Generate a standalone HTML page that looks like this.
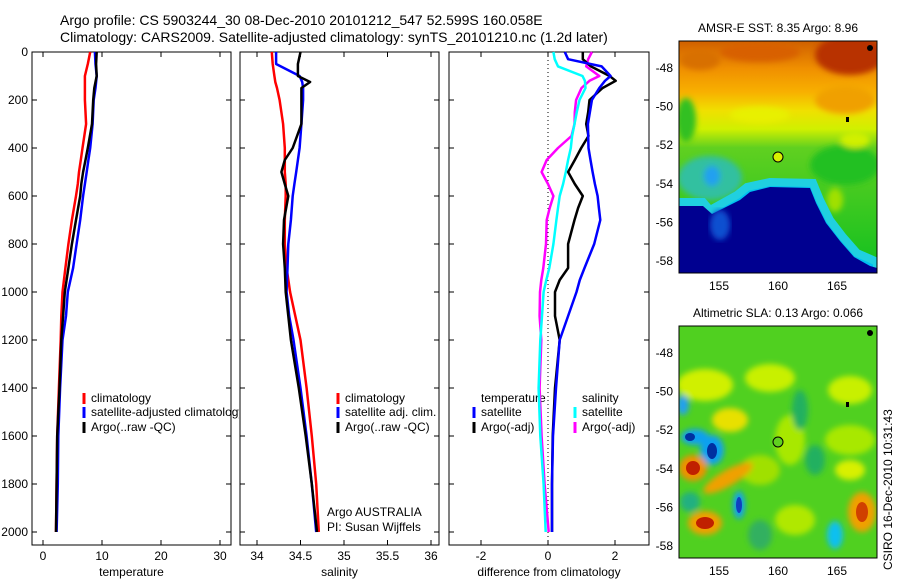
<!DOCTYPE html>
<html><head><meta charset="utf-8"><style>
html,body{margin:0;padding:0;background:#fff;}
svg text{font-family:"Liberation Sans",sans-serif;fill:#000;}
</style></head><body>
<svg id="c" width="900" height="580" viewBox="0 0 900 580" xmlns="http://www.w3.org/2000/svg">
<defs>
<linearGradient id="sstg" x1="0" y1="0" x2="0" y2="1">
<stop offset="0" stop-color="#d06000"/><stop offset="0.12" stop-color="#f09000"/><stop offset="0.22" stop-color="#f8b000"/><stop offset="0.3" stop-color="#f0e000"/><stop offset="0.38" stop-color="#d0f000"/><stop offset="0.46" stop-color="#60d020"/><stop offset="1" stop-color="#10c020"/>
</linearGradient>
<clipPath id="clipA"><rect x="679" y="41" width="198" height="232"/></clipPath>
<clipPath id="clipB"><rect x="679" y="326" width="198" height="232"/></clipPath>
<clipPath id="clipL"><rect x="0" y="0" width="239" height="580"/></clipPath>
<filter id="bl"><feGaussianBlur stdDeviation="3"/></filter>
</defs>
<text x="60" y="25" font-size="14">Argo profile: CS 5903244_30 08-Dec-2010 20101212_547 52.599S 160.058E</text>
<text x="60" y="42" font-size="14">Climatology: CARS2009. Satellite-adjusted climatology: synTS_20101210.nc (1.2d later)</text>
<g id="plots"></g>

<!-- SST map -->
<g clip-path="url(#clipA)">
<rect x="679" y="41" width="198" height="232" fill="url(#sstg)"/>
<g filter="url(#bl)">
<ellipse cx="850" cy="55" rx="35" ry="20" fill="#b83000"/>
<ellipse cx="760" cy="52" rx="40" ry="10" fill="#d86000"/>
<ellipse cx="700" cy="60" rx="20" ry="10" fill="#d87000"/>
<ellipse cx="686" cy="120" rx="10" ry="22" fill="#30c020"/>
<ellipse cx="845" cy="100" rx="30" ry="14" fill="#f0a000"/>
<ellipse cx="760" cy="115" rx="30" ry="8" fill="#e8f000"/>
<ellipse cx="845" cy="165" rx="35" ry="20" fill="#20c020"/>
<ellipse cx="855" cy="140" rx="15" ry="8" fill="#d0f000"/>
<ellipse cx="710" cy="178" rx="32" ry="22" fill="#30c0a0"/>
<ellipse cx="712" cy="176" rx="8" ry="10" fill="#20a0f0"/>
<ellipse cx="835" cy="200" rx="8" ry="12" fill="#a0e000"/>
</g>
<polygon points="680,202 703,202 710,210 737,195 747,187 770,182 813,183 820,200 830,220 843,237 857,253 873,260 877,262 877,273 679,273" fill="#00c0f0" stroke="#20d0e0" stroke-width="8"/>
<polygon points="679,206 703,206 712,214 740,200 750,192 770,187 810,188 816,203 826,223 840,241 854,257 870,266 877,268 877,273 679,273" fill="#000090"/>
<ellipse cx="720" cy="225" rx="10" ry="15" fill="#1050d0" filter="url(#bl)"/>
<circle cx="870" cy="48" r="3" fill="#000"/>
<rect x="846" y="117" width="3" height="5" fill="#000"/>
</g>
<rect x="679" y="41" width="198" height="232" fill="none" stroke="#000"/>
<circle cx="778" cy="157" r="5" fill="#d8f000" stroke="#000"/>
<text x="778" y="32" font-size="12" text-anchor="middle">AMSR-E SST: 8.35 Argo: 8.96</text>

<!-- SLA map -->
<g clip-path="url(#clipB)">
<rect x="679" y="326" width="198" height="232" fill="#50d020"/>
<g filter="url(#bl)">
<ellipse cx="705" cy="385" rx="28" ry="16" fill="#d0f000"/>
<ellipse cx="770" cy="378" rx="25" ry="14" fill="#c8f000"/>
<ellipse cx="850" cy="390" rx="22" ry="14" fill="#c8f000"/>
<ellipse cx="730" cy="420" rx="18" ry="12" fill="#e8e000"/>
<ellipse cx="790" cy="440" rx="15" ry="25" fill="#a8e800"/>
<ellipse cx="850" cy="440" rx="25" ry="15" fill="#a8e800"/>
<ellipse cx="795" cy="520" rx="20" ry="15" fill="#b0e800"/>
<ellipse cx="850" cy="470" rx="15" ry="10" fill="#d8f000"/>
<ellipse cx="800" cy="410" rx="8" ry="20" fill="#20b060"/>
<ellipse cx="815" cy="460" rx="10" ry="15" fill="#20b060"/>
<ellipse cx="690" cy="502" rx="10" ry="10" fill="#20b080"/>
<ellipse cx="760" cy="535" rx="12" ry="15" fill="#30b060"/>
<ellipse cx="760" cy="470" rx="20" ry="15" fill="#a0e000"/>
<ellipse cx="683" cy="405" rx="6" ry="10" fill="#20a0f0"/>
<ellipse cx="695" cy="437" rx="14" ry="8" fill="#10a0f0"/>
<ellipse cx="712" cy="450" rx="12" ry="15" fill="#10a0f0"/>
<ellipse cx="728" cy="478" rx="28" ry="8" fill="#f0a000" transform="rotate(-30 728 478)"/>
<ellipse cx="693" cy="468" rx="14" ry="13" fill="#f09000"/>
<ellipse cx="705" cy="523" rx="17" ry="12" fill="#f0a000"/>
<ellipse cx="862" cy="512" rx="14" ry="20" fill="#f0a000"/>
<ellipse cx="835" cy="535" rx="8" ry="14" fill="#10c0f0"/>
<ellipse cx="739" cy="505" rx="6" ry="14" fill="#10a0f0"/>
</g>
<ellipse cx="690" cy="437" rx="5" ry="4" fill="#0030a0"/>
<ellipse cx="712" cy="451" rx="5" ry="8" fill="#0030a0"/>
<ellipse cx="693" cy="468" rx="7" ry="7" fill="#c02000"/>
<ellipse cx="705" cy="523" rx="9" ry="6" fill="#c02000"/>
<ellipse cx="862" cy="512" rx="6" ry="10" fill="#d04000"/>
<ellipse cx="739" cy="505" rx="3" ry="8" fill="#1040c0"/>
<circle cx="870" cy="333" r="3" fill="#000"/>
<rect x="846" y="402" width="3" height="5" fill="#000"/>
</g>
<rect x="679" y="326" width="198" height="232" fill="none" stroke="#000"/>
<circle cx="778" cy="442" r="5" fill="#60d020" stroke="#000"/>
<text x="778" y="317" font-size="12" text-anchor="middle">Altimetric SLA: 0.13 Argo: 0.066</text>
<text x="0" y="0" font-size="12" transform="translate(892,570) rotate(-90)">CSIRO 16-Dec-2010 10:31:43</text>
</svg>
<script>
// ---- data ----
const depthLevels = [0,50,100,125,150,200,300,400,450,500,550,600,700,800,900,1000,1100,1200,1400,1600,1800,2000];
const tempClim = [8.0,7.6,7.1,7.1,7.1,7.1,7.3,6.7,6.4,6.1,5.9,5.6,4.9,4.3,3.8,3.3,3.1,3.0,2.7,2.4,2.3,2.2];
const tempSat  = [8.8,8.9,9.1,9.0,8.9,8.6,8.4,8.0,7.7,7.4,7.1,6.8,6.3,5.7,5.1,4.2,3.9,3.3,2.9,2.6,2.5,2.3];
const tempArgo = [9.1,9.0,9.1,8.9,8.7,8.5,8.3,7.6,7.2,6.8,6.5,6.3,5.6,4.9,4.3,3.7,3.4,3.1,2.8,2.4,2.3,2.2];
const salClim = [34.17,34.18,34.20,34.21,34.23,34.26,34.30,34.32,34.32,34.32,34.33,34.33,34.32,34.32,34.34,34.38,34.44,34.50,34.57,34.63,34.68,34.71];
const salSat  = [34.22,34.22,34.49,34.52,34.53,34.53,34.51,34.49,34.47,34.45,34.43,34.41,34.39,34.36,34.35,34.34,34.37,34.42,34.50,34.57,34.63,34.68];
const salArgo = [34.50,34.47,34.47,34.61,34.51,34.51,34.51,34.41,34.32,34.28,34.32,34.36,34.31,34.30,34.32,34.33,34.36,34.39,34.48,34.56,34.63,34.69];
const diffDepths = [0,30,60,100,120,150,200,250,300,350,400,450,500,550,600,650,700,800,900,950,1000,1100,1200,1400,1600,1800,2000];
const dTempSat  = [0.5,0.6,1.6,1.87,1.7,1.53,1.31,1.25,1.19,1.2,1.21,1.27,1.33,1.4,1.48,1.52,1.56,1.38,1.09,0.95,0.85,0.6,0.35,0.24,0.15,0.12,0.12];
const dTempArgo = [1.04,1.04,1.28,1.84,2.02,1.63,1.24,1.2,1.14,1.21,0.99,0.8,0.6,0.8,1.04,0.9,0.79,0.6,0.6,0.35,0.21,0.21,0.35,0.21,0.14,0.12,0.12];
const dSalSat   = [0.16,0.2,0.3,1.03,1.1,1.12,0.94,0.86,0.79,0.72,0.68,0.6,0.53,0.45,0.35,0.3,0.25,0.16,0.04,-0.05,-0.13,-0.18,-0.23,-0.28,-0.23,-0.13,-0.07];
const dSalArgo  = [1.31,1.2,1.14,1.53,1.24,1.0,0.84,0.8,0.79,0.7,0.3,-0.04,-0.19,0.0,0.16,0.05,-0.04,-0.06,-0.14,-0.2,-0.24,-0.25,-0.2,-0.25,-0.19,-0.1,0.02];
const depthTicks = [0,200,400,600,800,1000,1200,1400,1600,1800,2000];
const tempTicks = [0,10,20,30];
const salTicks = [34,34.5,35,35.5,36];
const diffTicks = [-2,0,2];
const lonTicks = [155,160,165];
const latTicks = [-48,-50,-52,-54,-56,-58];

const NS='http://www.w3.org/2000/svg';
const g=document.getElementById('plots');
function el(tag,attrs,parent){const e=document.createElementNS(NS,tag);for(const k in attrs)e.setAttribute(k,attrs[k]);(parent||g).appendChild(e);return e;}
const yD = d => 52 + d*0.24;
const TOP=52, BOT=545;
const panels = [
 {name:'temperature', x0:32, x1:231, xs:v=>43+5.9*v, ticks:tempTicks, label:'temperature'},
 {name:'salinity', x0:240, x1:439, xs:v=>257+(v-34)*87, ticks:salTicks, label:'salinity'},
 {name:'difference', x0:449, x1:649, xs:v=>548+33.5*v, ticks:diffTicks, label:'difference from climatology'}
];
panels.forEach((p,i)=>{
  const f=el('rect',{x:p.x0,y:TOP,width:p.x1-p.x0,height:BOT-TOP,fill:'none',stroke:'#000'});
  
  
  p.ticks.forEach(t=>{
    const x=p.xs(t);
    el('line',{x1:x,y1:BOT,x2:x,y2:BOT-5,stroke:'#000'});
    el('line',{x1:x,y1:TOP,x2:x,y2:TOP+5,stroke:'#000'});
    const tx=el('text',{x:x,y:560,'font-size':12,'text-anchor':'middle'});
    tx.textContent=String(t);
    
    
  });
  const lb=el('text',{x:(p.x0+p.x1)/2,y:576,'font-size':12,'text-anchor':'middle'});
  lb.textContent=p.label;
  
  
  depthTicks.forEach(d=>{
    el('line',{x1:p.x0,y1:yD(d),x2:p.x0+5,y2:yD(d),stroke:'#000'});
    el('line',{x1:p.x1,y1:yD(d),x2:p.x1-5,y2:yD(d),stroke:'#000'});
    if(i===0){
      const t=el('text',{x:28,y:yD(d)+4,'font-size':12,'text-anchor':'end'});
      t.textContent=String(d);
      
      
    }
  });
});
const dl=el('line',{x1:panels[2].xs(0),y1:TOP,x2:panels[2].xs(0),y2:BOT,stroke:'#000','stroke-dasharray':'1,3'});



function legendRow(x,y,color,text,name,clip){
  if(color){el('line',{x1:x,y1:y-9,x2:x,y2:y+2,stroke:color,'stroke-width':3});}
  const t=el('text',{x:x+7,y:y,'font-size':12});
  if(clip)t.setAttribute('clip-path','url(#clipL)');
  t.textContent=text;
  
  
}
legendRow(84,402,'#f00','climatology','legend-temp-climatology');
legendRow(84,416,'#00f','satellite-adjusted climatology','legend-temp-satellite',true);
legendRow(84,431,'#000','Argo(..raw -QC)','legend-temp-argo');
legendRow(338,402,'#f00','climatology','legend-sal-climatology');
legendRow(338,416,'#00f','satellite adj. clim.','legend-sal-satellite');
legendRow(338,431,'#000','Argo(..raw -QC)','legend-sal-argo');
legendRow(474,402,null,'temperature','legend-diff-temp-header');
legendRow(474,416,'#00f','satellite','legend-diff-temp-satellite');
legendRow(474,431,'#000','Argo(-adj)','legend-diff-temp-argo');
legendRow(575,402,null,'salinity','legend-diff-sal-header');
legendRow(575,416,'#0ff','satellite','legend-diff-sal-satellite');
legendRow(575,431,'#f0f','Argo(-adj)','legend-diff-sal-argo');
const a1=el('text',{x:327,y:516,'font-size':12});a1.textContent='Argo AUSTRALIA';


const a2=el('text',{x:327,y:531,'font-size':12});a2.textContent='PI: Susan Wijffels';



function series(p,depths,vals,color,name){
  const pts=vals.map((v,k)=>p.xs(v).toFixed(1)+','+yD(depths[k]).toFixed(1)).join(' ');
  const l=el('polyline',{points:pts,fill:'none',stroke:color,'stroke-width':2.5,'stroke-linejoin':'round'});
  
  
}
series(panels[0],depthLevels,tempClim,'#f00','temp-climatology-line');
series(panels[0],depthLevels,tempSat,'#00f','temp-satellite-line');
series(panels[0],depthLevels,tempArgo,'#000','temp-argo-line');
series(panels[1],depthLevels,salClim,'#f00','sal-climatology-line');
series(panels[1],depthLevels,salSat,'#00f','sal-satellite-line');
series(panels[1],depthLevels,salArgo,'#000','sal-argo-line');
series(panels[2],diffDepths,dSalArgo,'#f0f','diff-sal-argo-line');
series(panels[2],diffDepths,dSalSat,'#0ff','diff-sal-satellite-line');
series(panels[2],diffDepths,dTempArgo,'#000','diff-temp-argo-line');
series(panels[2],diffDepths,dTempSat,'#00f','diff-temp-satellite-line');

// map axes
const lonX = v => 778 + (v-160)*11.8;
[[41,273,-48,68],[326,558,-48,353]].forEach((m,mi)=>{
  const latY = v => m[3] + (-48 - v)*19.3;
  lonTicks.forEach(v=>{
    const x=lonX(v);
    el('line',{x1:x,y1:m[0],x2:x,y2:m[0]+4,stroke:'#000'});
    el('line',{x1:x,y1:m[1],x2:x,y2:m[1]-4,stroke:'#000'});
    const t=el('text',{x:x,y:m[1]+17,'font-size':12,'text-anchor':'middle'});
    t.textContent=String(v);
    
    
  });
  latTicks.forEach(v=>{
    const y=latY(v);
    el('line',{x1:679,y1:y,x2:683,y2:y,stroke:'#000'});
    el('line',{x1:877,y1:y,x2:873,y2:y,stroke:'#000'});
    const t=el('text',{x:673,y:y+4,'font-size':12,'text-anchor':'end'});
    t.textContent=String(v);
    
    
  });
});
</script>
</body></html>
